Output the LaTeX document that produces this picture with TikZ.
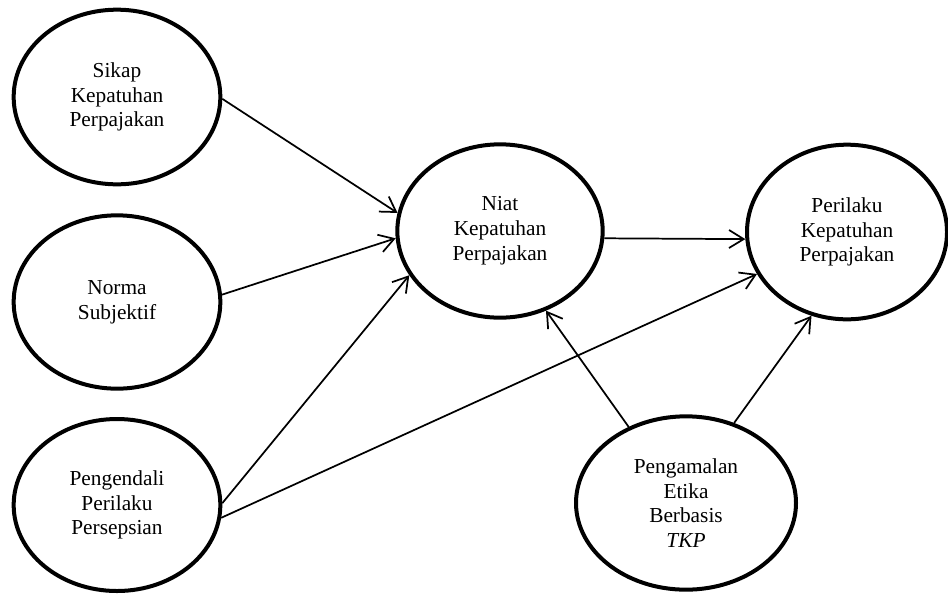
\documentclass[tikz,border=0pt]{standalone}
\usepackage{fontspec}
\setmainfont{Liberation Serif}
\usetikzlibrary{shapes.geometric,arrows.meta}

\tikzset{
  konstruk/.style={draw, ellipse, line width=3pt, minimum width=155pt, minimum height=131pt,
    inner sep=2pt, align=center, font=\fontsize{16pt}{18.6pt}\selectfont},
  panah/.style={line width=1.3pt, -{Straight Barb[length=11pt,width=13.5pt,line width=1.3pt]}}
}

\begin{document}
\begin{tikzpicture}[x=0.75pt,y=0.75pt,yscale=-1,xscale=1]
\useasboundingbox (0,0) rectangle (948,593);

%Shape: Ellipse [Sikap]
\node [konstruk] (sikap) at (117,97) {Sikap\\Kepatuhan\\Perpajakan};
%Shape: Ellipse [Norma]
\node [konstruk, minimum height=130pt] (norma) at (117,302) {Norma\\Subjektif};
%Shape: Ellipse [Pengendali]
\node [konstruk, minimum height=129pt] (pengendali) at (117,505) {Pengendali\\Perilaku\\Persepsian};
%Shape: Ellipse [Niat]
\node [konstruk, minimum width=154pt, minimum height=130pt] (niat) at (500,231) {Niat\\Kepatuhan\\Perpajakan};
%Shape: Ellipse [Perilaku]
\node [konstruk, minimum width=150pt] (perilaku) at (847,232) {Perilaku\\Kepatuhan\\Perpajakan};
%Shape: Ellipse [Pengamalan]
\node [konstruk, minimum width=165pt, minimum height=130pt] (etika) at (686,503) {Pengamalan\\Etika\\Berbasis\\\textit{TKP}};

%Straight Lines
\draw [panah] (sikap.-1) -- (niat.170);
\draw [panah] (norma.4) -- (niat.184);
\draw [panah] (pengendali.1) -- (niat.206);
\draw [panah] (pengendali.-7) -- (perilaku.205);
\draw [panah] (niat.-4) -- (perilaku.184);
\draw [panah] (etika.127) -- (niat.-60);
\draw [panah] (etika.59) -- (perilaku.-113);

\end{tikzpicture}
\end{document}
